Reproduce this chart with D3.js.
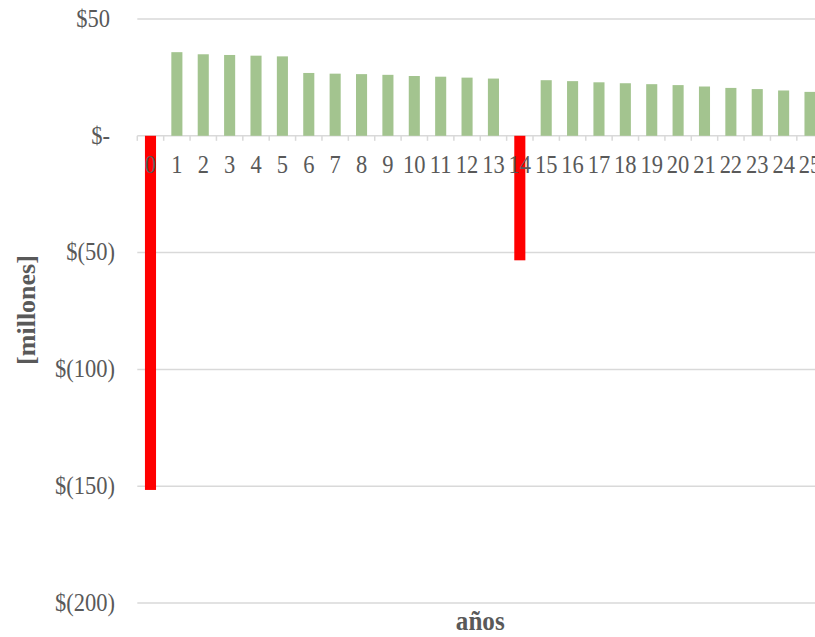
<!DOCTYPE html>
<html>
<head>
<meta charset="utf-8">
<script src="https://cdn.jsdelivr.net/npm/d3@7"></script>
<style>
  body { margin: 0; background: #fff; }
  svg { display: block; font-family: 'Liberation Serif', 'Times New Roman', serif; }
</style>
</head>
<body>
<div id="chart"></div>
<script>
const years = d3.range(0, 26).map(String)
const flows = [
  -151.6, 35.8, 34.9, 34.6, 34.3, 34.0, 26.9, 26.6, 26.4, 26.1,
  25.6, 25.3, 24.9, 24.5, -53.3, 23.8, 23.4, 22.9, 22.5, 22.1,
  21.7, 21.1, 20.5, 20.0, 19.4, 18.8
]
const yTicks = [50, 0, -50, -100, -150, -200]

const width = 815
const height = 637
const plotLeft = 137.3
const plotRight = 823.2
const squeeze = 0.9 // text in the original looks a bit condensed

const svg = d3
  .select('#chart')
  .append('svg')
  .attr('width', width)
  .attr('height', height)

const xPositionScale = d3
  .scaleBand()
  .domain(years)
  .range([plotLeft, plotRight])
  .paddingInner(0.58)
  .paddingOuter(0.29)

const yPositionScale = d3
  .scaleLinear()
  .domain([-200, 50])
  .range([603, 19])

const fmt = d => (d < 0 ? '$(' + -d + ')' : d === 0 ? '$-' : '$' + d)

// gridlines
svg
  .append('g')
  .selectAll('line')
  .data(yTicks)
  .enter()
  .append('line')
  .attr('x1', plotLeft)
  .attr('x2', width)
  .attr('y1', d => yPositionScale(d))
  .attr('y2', d => yPositionScale(d))
  .attr('stroke', '#d9d9d9')
  .attr('stroke-width', 1.5)

// y labels
svg
  .append('g')
  .selectAll('text')
  .data(yTicks)
  .enter()
  .append('text')
  .text(fmt)
  .attr('transform', d =>
    'translate(' + (d < 0 ? 115 : 110) + ',' + (yPositionScale(d) + 7.8) + ') scale(' + squeeze + ',1)')
  .attr('text-anchor', 'end')
  .attr('font-size', 25)
  .attr('fill', '#595959')

// bars
svg
  .append('g')
  .selectAll('rect')
  .data(flows)
  .enter()
  .append('rect')
  .attr('x', (d, i) => xPositionScale(years[i]))
  .attr('width', xPositionScale.bandwidth())
  .attr('y', d => yPositionScale(Math.max(0, d)))
  .attr('height', d => Math.abs(yPositionScale(d) - yPositionScale(0)))
  .attr('fill', d => (d < 0 ? '#ff0000' : '#a3c48f'))

// x axis labels
const xAxis = d3.axisBottom(xPositionScale).tickSize(0)
const xg = svg
  .append('g')
  .attr('class', 'axis x-axis')
  .attr('transform', 'translate(0,' + yPositionScale(0) + ')')
  .call(xAxis)
xg.select('.domain').remove()
xg.selectAll('text')
  .attr('y', 37)
  .attr('dy', 0)
  .attr('transform', 'scale(' + squeeze + ',1)')
  .attr('font-size', 25)
  .attr('font-family', "'Liberation Serif', 'Times New Roman', serif")
  .attr('fill', '#595959')

// category tick marks
const step = xPositionScale.step()
svg
  .append('g')
  .selectAll('line')
  .data(d3.range(0, years.length + 1))
  .enter()
  .append('line')
  .attr('x1', i => plotLeft + i * step)
  .attr('x2', i => plotLeft + i * step)
  .attr('y1', yPositionScale(0))
  .attr('y2', yPositionScale(0) + 5)
  .attr('stroke', '#d9d9d9')
  .attr('stroke-width', 1.5)

// axis titles
svg
  .append('text')
  .text('[millones]')
  .attr('transform', 'translate(35,310) rotate(-90)')
  .attr('text-anchor', 'middle')
  .attr('font-size', 26)
  .attr('font-weight', 'bold')
  .attr('fill', '#595959')

svg
  .append('text')
  .text('años')
  .attr('transform', 'translate(' + (plotLeft + plotRight) / 2 + ',630) scale(0.93,1)')
  .attr('text-anchor', 'middle')
  .attr('font-size', 27)
  .attr('font-weight', 'bold')
  .attr('fill', '#595959')
</script>
</body>
</html>
